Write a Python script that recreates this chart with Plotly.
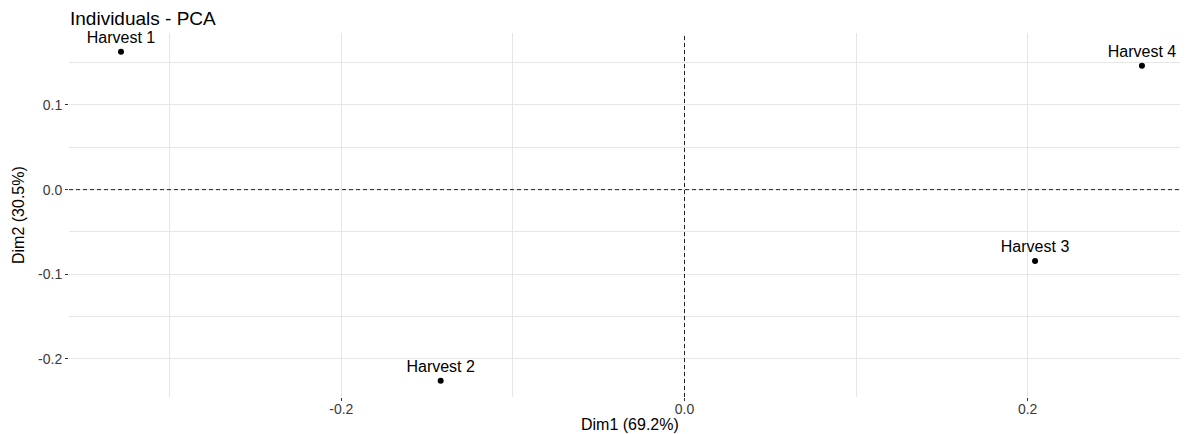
import plotly.graph_objects as go

labels = ["Harvest 1", "Harvest 2", "Harvest 3", "Harvest 4"]
dim1 = [-0.3284, -0.1421, 0.2043, 0.2666]
dim2 = [0.1630, -0.2256, -0.0842, 0.1464]

x_ticks = [-0.2, 0.0, 0.2]
x_ticktext = ["-0.2", "0.0", "0.2"]
y_ticks = [-0.2, -0.1, 0.0, 0.1]
y_ticktext = ["-0.2", "-0.1", "0.0", "0.1"]

FONT = "Liberation Sans, Arial, sans-serif"
# page body has an 8px margin, so the figure is sized/offset to compensate
OFF = 8
W, H = 1188 - OFF, 434 - OFF
ML, MR, MT, MB = 69 - OFF, 4, 33 - OFF, 37
PW, PH = W - ML - MR, H - MT - MB

fig = go.Figure()
fig.add_trace(go.Scatter(
    x=dim1, y=dim2, mode="markers+text", text=labels,
    textposition="top center",
    textfont=dict(family=FONT, size=16, color="black"),
    marker=dict(color="black", size=6),
    showlegend=False, hoverinfo="skip", cliponaxis=False,
))

fig.add_shape(type="line", xref="x", yref="paper", x0=0, x1=0, y0=0, y1=1,
              line=dict(color="#222222", width=1, dash="4px,3px"), layer="above")
fig.add_shape(type="line", xref="paper", yref="y", x0=0, x1=1, y0=0, y1=0,
              line=dict(color="#222222", width=1, dash="4px,3px"), layer="above")

fig.add_annotation(text="Dim1 (69.2%)", xref="paper", yref="paper",
                   x=(630 - OFF - ML) / PW, y=-(424 - 397) / PH,
                   xanchor="center", yanchor="middle", showarrow=False,
                   font=dict(family=FONT, size=16, color="black"))
fig.add_annotation(text="Dim2 (30.5%)", xref="paper", yref="paper",
                   x=-(69 - 18) / PW, y=0.5, textangle=-90,
                   xanchor="center", yanchor="middle", showarrow=False,
                   font=dict(family=FONT, size=16, color="black"))

fig.update_layout(
    width=W, height=H,
    margin=dict(l=ML, r=MR, t=MT, b=MB, autoexpand=False),
    paper_bgcolor="white", plot_bgcolor="white",
    font=dict(family=FONT, color="#3a3a3a"),
    title=dict(text="Individuals - PCA", x=(70 - OFF) / W, xanchor="left", xref="container",
               y=1 - (18 - OFF) / H, yanchor="middle", yref="container",
               font=dict(family=FONT, size=19, color="black")),
    xaxis=dict(
        range=[-0.3587, 0.2911], tickvals=x_ticks, ticktext=x_ticktext,
        showgrid=True, gridcolor="#e6e6e6", gridwidth=1,
        minor=dict(dtick=0.1, tick0=0, showgrid=True, gridcolor="#e6e6e6", gridwidth=1),
        zeroline=False, showline=False, automargin=False,
        ticks="outside", ticklen=3, tickcolor="#333333", tickwidth=1,
        ticklabelstandoff=-4,
        tickfont=dict(family=FONT, size=14, color="#3a3a3a"),
    ),
    yaxis=dict(
        range=[-0.2449, 0.185], tickvals=y_ticks, ticktext=y_ticktext,
        showgrid=True, gridcolor="#e6e6e6", gridwidth=1,
        minor=dict(dtick=0.05, tick0=0, showgrid=True, gridcolor="#e6e6e6", gridwidth=1),
        zeroline=False, showline=False, automargin=False,
        ticks="outside", ticklen=3, tickcolor="#333333", tickwidth=1,
        tickfont=dict(family=FONT, size=14, color="#3a3a3a"),
    ),
)

fig.write_html("out.html")
